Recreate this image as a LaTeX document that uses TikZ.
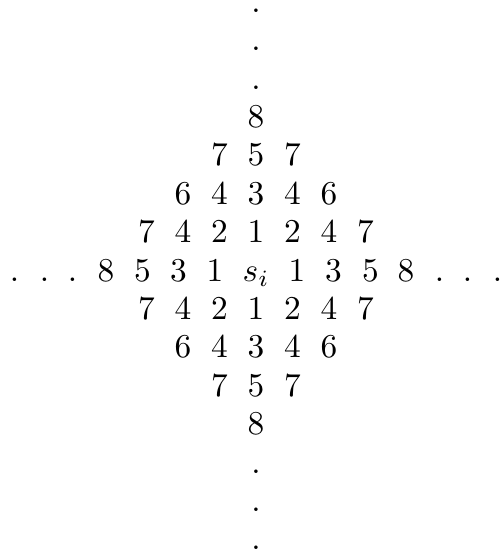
\documentclass[tikz,border=0pt]{standalone}
\begin{document}
\begin{tikzpicture}[x=0.3pt,y=-0.3pt,
  lbl/.style={inner sep=0pt, anchor=base, font=\fontsize{10}{12}\selectfont}]
\useasboundingbox (0,0) rectangle (501,556);
% vertical dots (top)
\node[lbl] (vt3) at (256,12.5) {.};
\node[lbl] (vt2) at (256,50.9) {.};
\node[lbl] (vt1) at (256,89.3) {.};
% row -4
\node[lbl] (a0) at (256,127.4) {8};
% row -3
\node[lbl] (b1) at (219.5,165.8) {7};
\node[lbl] (b0) at (256,165.8) {5};
\node[lbl] (b2) at (292.5,165.8) {7};
% row -2
\node[lbl] (c1) at (183,204.2) {6};
\node[lbl] (c2) at (219.5,204.2) {4};
\node[lbl] (c0) at (256,204.2) {3};
\node[lbl] (c3) at (292.5,204.2) {4};
\node[lbl] (c4) at (329,204.2) {6};
% row -1
\node[lbl] (d1) at (146.5,242.6) {7};
\node[lbl] (d2) at (183,242.6) {4};
\node[lbl] (d3) at (219.5,242.6) {2};
\node[lbl] (d0) at (256,242.6) {1};
\node[lbl] (d4) at (292.5,242.6) {2};
\node[lbl] (d5) at (329,242.6) {4};
\node[lbl] (d6) at (365.5,242.6) {7};
% centre row
\node[lbl] (hl3) at (14.5,281) {.};
\node[lbl] (hl2) at (44.5,281) {.};
\node[lbl] (hl1) at (72.5,281) {.};
\node[lbl] (e8l) at (106,281) {8};
\node[lbl] (e5l) at (142.5,281) {5};
\node[lbl] (e3l) at (178.5,281) {3};
\node[lbl] (e1l) at (215,281) {1};
\node[lbl] (si) at (256,281) {$s_i$};
\node[lbl] (e1r) at (297,281) {1};
\node[lbl] (e3r) at (333.5,281) {3};
\node[lbl] (e5r) at (370.5,281) {5};
\node[lbl] (e8r) at (406,281) {8};
\node[lbl] (hr1) at (439.5,281) {.};
\node[lbl] (hr2) at (467.5,281) {.};
\node[lbl] (hr3) at (497.5,281) {.};
% row +1
\node[lbl] (f1) at (146.5,319.4) {7};
\node[lbl] (f2) at (183,319.4) {4};
\node[lbl] (f3) at (219.5,319.4) {2};
\node[lbl] (f0) at (256,319.4) {1};
\node[lbl] (f4) at (292.5,319.4) {2};
\node[lbl] (f5) at (329,319.4) {4};
\node[lbl] (f6) at (365.5,319.4) {7};
% row +2
\node[lbl] (g1) at (183,357.8) {6};
\node[lbl] (g2) at (219.5,357.8) {4};
\node[lbl] (g0) at (256,357.8) {3};
\node[lbl] (g3) at (292.5,357.8) {4};
\node[lbl] (g4) at (329,357.8) {6};
% row +3
\node[lbl] (h1) at (219.5,396.2) {7};
\node[lbl] (h0) at (256,396.2) {5};
\node[lbl] (h2) at (292.5,396.2) {7};
% row +4
\node[lbl] (i0) at (256,434.6) {8};
% vertical dots (bottom)
\node[lbl] (vb1) at (256,473) {.};
\node[lbl] (vb2) at (256,511.4) {.};
\node[lbl] (vb3) at (256,549.8) {.};
\end{tikzpicture}
\end{document}
